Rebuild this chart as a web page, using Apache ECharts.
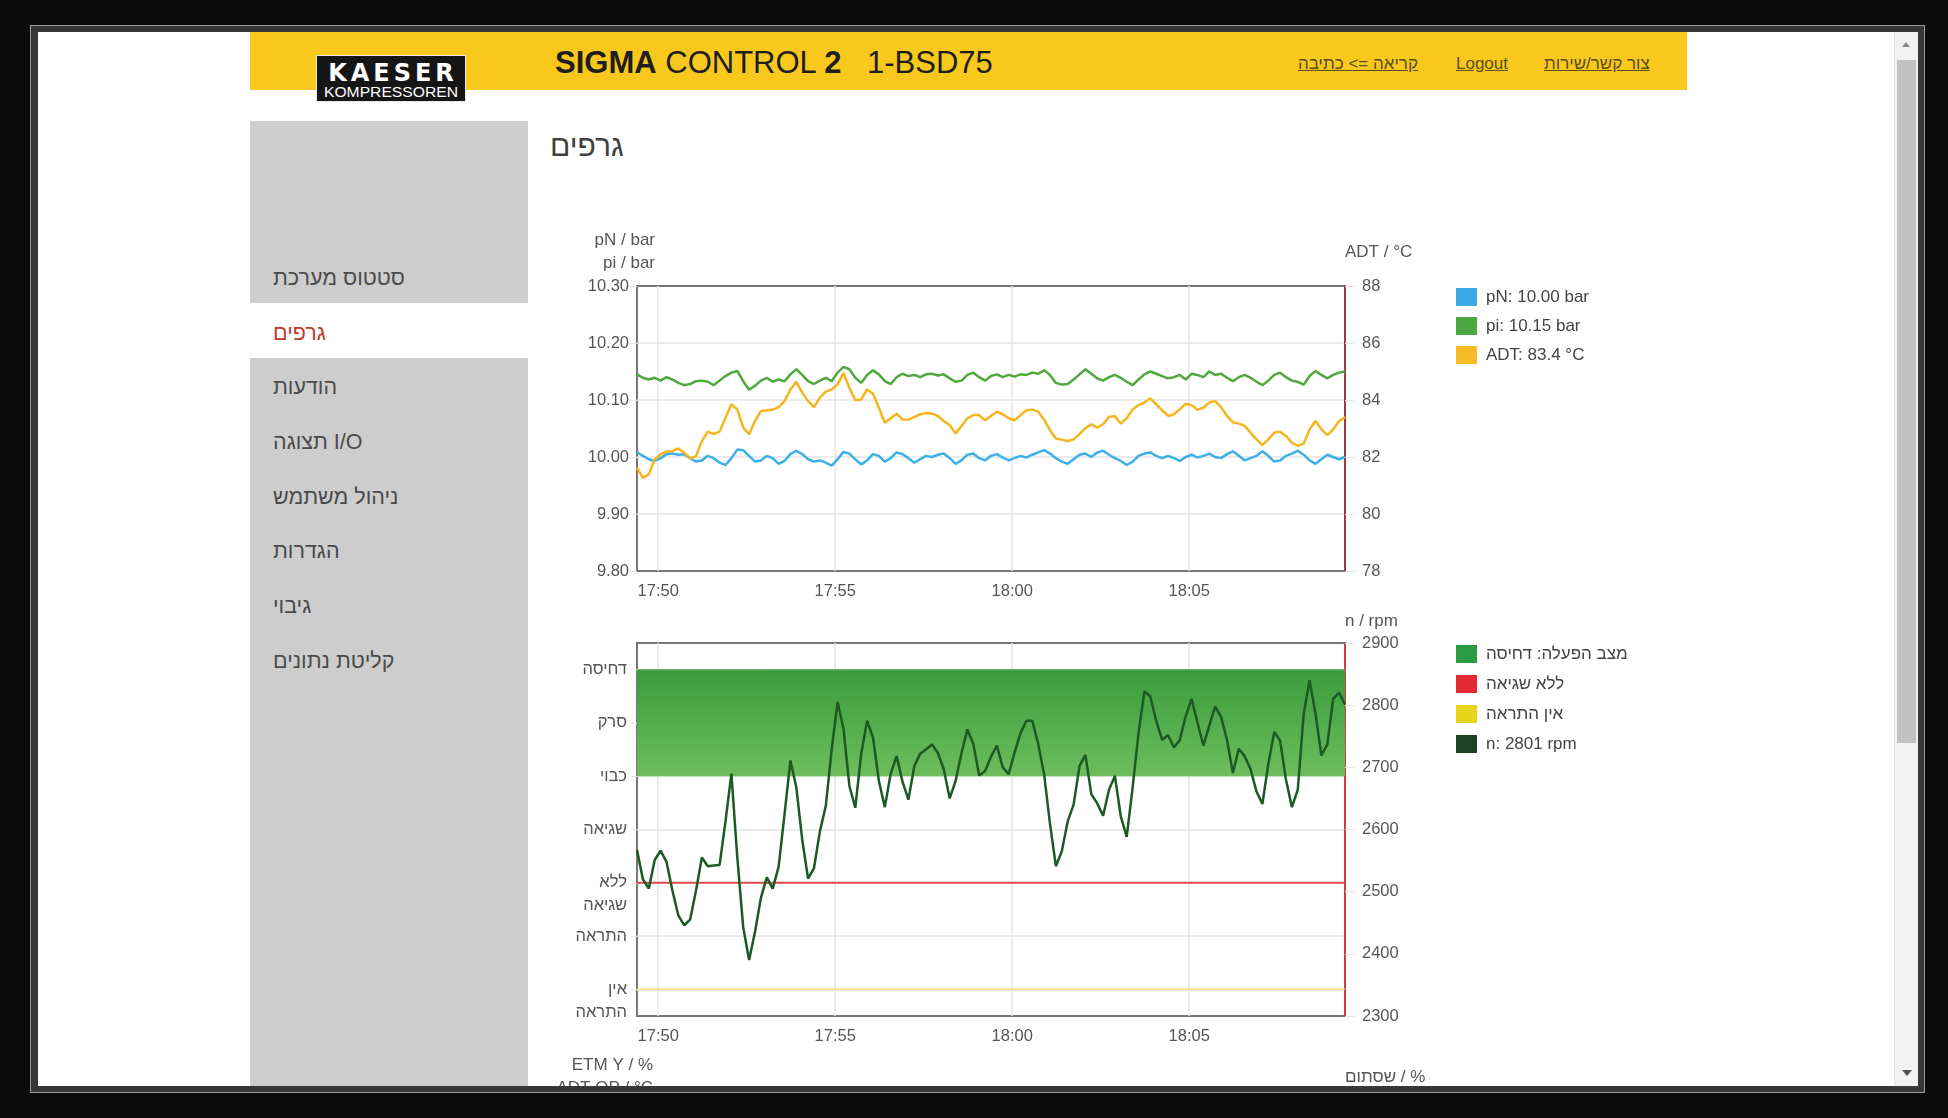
<!DOCTYPE html>
<html>
<head>
<meta charset="utf-8">
<script src="https://cdn.jsdelivr.net/npm/echarts@6/dist/echarts.min.js"></script>
<style>
html,body{margin:0;padding:0;width:1948px;height:1118px;overflow:hidden;background:#0b0b0b;font-family:"Liberation Sans",Arial,"DejaVu Sans",sans-serif;}
div{box-sizing:border-box;}
#frame{position:absolute;left:30px;top:25px;width:1895px;height:1068px;background:#373737;border:1px solid #9a9a9a;}
#page{position:absolute;left:38px;top:32px;width:1880px;height:1054px;background:#ffffff;}
#header{position:absolute;left:250px;top:32px;width:1437px;height:58px;background:#f9c81c;}
#logo{position:absolute;left:316px;top:55px;width:150px;height:47px;background:#161616;border:1px solid #e8e8e8;color:#fff;text-align:center;}
#logo .k1{font-weight:900;font-size:24px;letter-spacing:4px;line-height:24px;margin-top:5px;padding-left:4px;font-family:"DejaVu Sans",Arial,sans-serif;}
#logo .k2{font-size:14.5px;line-height:15px;letter-spacing:0px;font-family:"Liberation Sans Narrow","Liberation Sans",Arial,sans-serif;transform:scaleX(1.08);}
.t{position:absolute;white-space:nowrap;color:#222;}
.title{font-size:31px;line-height:30px;top:48px;color:#1e1e1e;}
.hlink{position:absolute;top:54px;font-size:17px;line-height:20px;color:#5b4e1c;text-decoration:underline;white-space:nowrap;}
.side{position:absolute;left:250px;width:278px;background:#cdcdcd;}
.nav{position:absolute;left:273px;font-size:21.5px;line-height:24px;color:#4a4a4a;white-space:nowrap;}
#heading{position:absolute;left:550px;top:130px;font-size:30px;line-height:32px;color:#3f3f3f;white-space:nowrap;}
#sbTrack{position:absolute;left:1894px;top:32px;width:24px;height:1054px;background:#f1f1f1;border-left:1px solid #e6e6e6;}
#sbThumb{position:absolute;left:1897px;top:60px;width:19px;height:683px;background:#c1c1c1;}
.arrUp{position:absolute;left:1902px;top:42px;width:0;height:0;border-left:4px solid transparent;border-right:4px solid transparent;border-bottom:5px solid #8a8a8a;}
.arrDn{position:absolute;left:1902px;top:1070px;width:0;height:0;border-left:5px solid transparent;border-right:5px solid transparent;border-top:6px solid #505050;}
#chart{position:absolute;left:0;top:0;width:1918px;height:1086px;}
</style>
</head>
<body>
<div id="frame"></div>
<div id="page"></div>
<div id="header"></div>
<div id="logo"><div class="k1">KAESER</div><div class="k2">KOMPRESSOREN</div></div>
<div class="t title" style="left:555px"><b>SIGMA</b> CONTROL <b>2</b></div>
<div class="t title" style="left:867px">1-BSD75</div>
<div class="hlink" style="left:1298px">קריאה =&gt; כתיבה</div>
<div class="hlink" style="left:1456px">Logout</div>
<div class="hlink" style="left:1544px">צור קשר/שירות</div>
<div class="side" style="top:121px;height:182px"></div>
<div class="side" style="top:358px;height:728px"></div>
<div class="nav" style="top:266px">סטטוס מערכת</div>
<div class="nav" style="top:321px;color:#c0392b">גרפים</div>
<div class="nav" style="top:375px">הודעות</div>
<div class="nav" style="top:430px">תצוגה I/O</div>
<div class="nav" style="top:485px">ניהול משתמש</div>
<div class="nav" style="top:539px">הגדרות</div>
<div class="nav" style="top:594px">גיבוי</div>
<div class="nav" style="top:649px">קליטת נתונים</div>
<div id="heading">גרפים</div>
<div id="sbTrack"></div>
<div id="sbThumb"></div>
<div class="arrUp"></div>
<div class="arrDn"></div>
<div id="chart"></div>
<script>
// ---------- DATA ----------
const axisStart = '17:49:24';
const axisEnd = '18:09:24';
const times = [
 '17:49:24','17:49:34','17:49:44','17:49:54',
 '17:50:04','17:50:14','17:50:24','17:50:34','17:50:44','17:50:54',
 '17:51:04','17:51:14','17:51:24','17:51:34','17:51:44','17:51:54',
 '17:52:04','17:52:14','17:52:24','17:52:34','17:52:44','17:52:54',
 '17:53:04','17:53:14','17:53:24','17:53:34','17:53:44','17:53:54',
 '17:54:04','17:54:14','17:54:24','17:54:34','17:54:44','17:54:54',
 '17:55:04','17:55:14','17:55:24','17:55:34','17:55:44','17:55:54',
 '17:56:04','17:56:14','17:56:24','17:56:34','17:56:44','17:56:54',
 '17:57:04','17:57:14','17:57:24','17:57:34','17:57:44','17:57:54',
 '17:58:04','17:58:14','17:58:24','17:58:34','17:58:44','17:58:54',
 '17:59:04','17:59:14','17:59:24','17:59:34','17:59:44','17:59:54',
 '18:00:04','18:00:14','18:00:24','18:00:34','18:00:44','18:00:54',
 '18:01:04','18:01:14','18:01:24','18:01:34','18:01:44','18:01:54',
 '18:02:04','18:02:14','18:02:24','18:02:34','18:02:44','18:02:54',
 '18:03:04','18:03:14','18:03:24','18:03:34','18:03:44','18:03:54',
 '18:04:04','18:04:14','18:04:24','18:04:34','18:04:44','18:04:54',
 '18:05:04','18:05:14','18:05:24','18:05:34','18:05:44','18:05:54',
 '18:06:04','18:06:14','18:06:24','18:06:34','18:06:44','18:06:54',
 '18:07:04','18:07:14','18:07:24','18:07:34','18:07:44','18:07:54',
 '18:08:04','18:08:14','18:08:24','18:08:34','18:08:44','18:08:54',
 '18:09:04','18:09:14','18:09:24'
];
const pN = [
 10.008,10.002,9.996,9.993,9.998,10.005,10.006,10.004,10.005,9.998,
 9.992,9.994,10.002,9.998,9.990,9.986,9.998,10.013,10.012,10.002,
 9.992,9.994,10.002,9.998,9.988,9.993,10.005,10.011,10.005,9.996,
 9.992,9.994,9.990,9.985,9.996,10.009,10.006,9.996,9.987,9.994,
 10.005,10.002,9.992,9.998,10.008,10.005,9.998,9.990,9.996,10.002,
 10.000,10.004,10.006,9.998,9.988,9.994,10.004,10.006,9.998,9.994,
 10.002,10.005,9.999,9.994,9.998,10.002,9.999,10.004,10.008,10.012,
 10.006,9.998,9.992,9.988,9.996,10.004,10.006,10.000,10.008,10.011,
 10.004,9.998,9.993,9.986,9.992,10.002,10.006,10.008,10.002,9.998,
 10.002,9.998,9.993,10.000,10.004,9.999,10.002,10.006,10.000,9.998,
 10.005,10.010,10.002,9.994,9.998,10.002,10.010,10.002,9.992,9.994,
 10.002,10.006,10.011,10.004,9.994,9.988,9.996,10.004,10.000,9.996,
 10.000
];
const pi = [
 10.145,10.139,10.136,10.139,10.134,10.140,10.136,10.130,10.126,10.128,
 10.133,10.134,10.132,10.126,10.134,10.142,10.148,10.151,10.133,10.118,
 10.125,10.134,10.139,10.132,10.136,10.133,10.145,10.154,10.144,10.133,
 10.128,10.134,10.139,10.133,10.148,10.158,10.154,10.139,10.130,10.144,
 10.152,10.145,10.133,10.128,10.140,10.146,10.142,10.144,10.140,10.145,
 10.146,10.143,10.145,10.138,10.132,10.134,10.144,10.148,10.140,10.134,
 10.142,10.145,10.140,10.144,10.141,10.145,10.144,10.148,10.146,10.152,
 10.144,10.130,10.127,10.128,10.136,10.145,10.154,10.146,10.138,10.134,
 10.140,10.144,10.139,10.132,10.126,10.136,10.145,10.150,10.146,10.142,
 10.138,10.140,10.144,10.136,10.146,10.144,10.140,10.150,10.144,10.146,
 10.139,10.133,10.140,10.144,10.139,10.132,10.126,10.134,10.144,10.148,
 10.140,10.134,10.132,10.127,10.142,10.151,10.144,10.138,10.144,10.148,
 10.150
];
const adt = [
 81.63,81.27,81.39,81.92,82.09,82.19,82.21,82.30,82.15,81.95,
 82.03,82.56,82.89,82.80,82.89,83.38,83.85,83.67,83.03,82.80,
 83.26,83.61,83.64,83.66,83.75,83.96,84.37,84.64,84.26,83.96,
 83.75,84.08,84.29,84.37,84.55,84.95,84.43,83.99,84.02,84.37,
 84.22,83.73,83.20,83.36,83.52,83.32,83.31,83.40,83.50,83.54,
 83.52,83.44,83.26,83.12,82.82,83.09,83.36,83.47,83.47,83.29,
 83.44,83.59,83.50,83.36,83.29,83.47,83.64,83.66,83.59,83.31,
 82.94,82.65,82.61,82.56,82.62,82.80,83.01,83.15,83.03,83.15,
 83.40,83.44,83.17,83.36,83.67,83.82,83.91,84.06,83.85,83.64,
 83.44,83.50,83.67,83.87,83.82,83.66,83.73,83.91,83.96,83.75,
 83.44,83.22,83.17,83.09,82.85,82.62,82.42,82.62,82.85,82.89,
 82.74,82.50,82.39,82.47,82.97,83.26,82.97,82.77,82.97,83.26,
 83.40
];
const rpm = [
 2567,2520,2505,2551,2566,2548,2502,2462,2446,2455,
 2502,2555,2541,2542,2543,2613,2690,2555,2443,2390,
 2435,2490,2523,2505,2540,2624,2711,2668,2584,2521,
 2538,2597,2638,2729,2805,2762,2670,2635,2722,2775,
 2748,2678,2636,2690,2718,2677,2648,2702,2722,2729,
 2737,2723,2697,2650,2678,2723,2761,2738,2687,2694,
 2717,2735,2700,2689,2724,2755,2775,2775,2738,2689,
 2609,2541,2565,2613,2640,2702,2720,2657,2642,2622,
 2664,2686,2621,2588,2667,2755,2822,2814,2775,2744,
 2752,2732,2744,2782,2810,2772,2735,2767,2798,2781,
 2744,2691,2730,2718,2697,2661,2641,2705,2757,2743,
 2680,2636,2664,2786,2840,2786,2719,2737,2810,2820,
 2801
];
// state levels, bottom to top (tick labels of the left state axis)
const stateNames = ['אין התראה','התראה','ללא שגיאה','שגיאה','כבוי','סרק','דחיסה'];
const stateTimes = ['17:49:24','18:09:24'];
const opState = ['דחיסה','דחיסה'];
const opStateBase = 'כבוי';
const errState = ['ללא שגיאה','ללא שגיאה'];
const warnState = ['אין התראה','אין התראה'];

// ---------- HELPERS ----------
function toMin(s){const p=s.split(':').map(Number);return (p[0]-17)*60+p[1]+p[2]/60;}
function fmtTime(v){const r=Math.round(v);if(Math.abs(v-r)>1e-6||r%5!==0)return '';const h=17+Math.floor(r/60),m=r%60;return h+':'+String(m).padStart(2,'0');}
function lvl(s){return stateNames.indexOf(s);}
function fmtState(v){const r=Math.round(v);if(Math.abs(v-r)>1e-6||r<0||r>=stateNames.length)return '';const s=stateNames[r];return s.indexOf(' ')>=0?'\n'+s.replace(' ','\n'):s;}
const last=a=>a[a.length-1];

const FONT='"Liberation Sans", Arial, "DejaVu Sans", sans-serif';
const xMin=toMin(axisStart), xMax=toMin(axisEnd);
const pNName='pN: '+last(pN).toFixed(2)+' bar';
const piName='pi: '+last(pi).toFixed(2)+' bar';
const adtName='ADT: '+last(adt).toFixed(1)+' °C';
const opName='מצב הפעלה: '+last(opState);
const errName=last(errState);
const warnName=last(warnState);
const rpmName='n: '+last(rpm)+' rpm';

const grids=[
 {left:637,top:286,width:708,height:285},
 {left:637,top:643,width:708,height:373},
 {left:637,top:1111,width:708,height:285}
].map(g=>Object.assign(g,{show:true,borderColor:'#777',borderWidth:2,backgroundColor:'transparent'}));

const gridColor='#e4e4e4';
const lbl={fontFamily:FONT,fontSize:16.5,color:'#555'};
const nameStyle=(align,pad)=>({fontFamily:FONT,fontSize:17,color:'#555',align:align,verticalAlign:'middle',lineHeight:23,padding:pad||[0,0,0,0]});

const xAxes=[0,1,2].map(i=>({
 type:'value',gridIndex:i,min:xMin,max:xMax,splitNumber:4,
 axisLine:{show:false},axisTick:{show:false},
 axisLabel:Object.assign({formatter:fmtTime,margin:12,showMinLabel:false,showMaxLabel:false},lbl),
 splitLine:{show:true,showMinLine:false,showMaxLine:false,lineStyle:{color:gridColor,width:1.5}}
}));

const yAxes=[
 {type:'value',gridIndex:0,position:'left',min:9.8,max:10.3,interval:0.1,
  name:'pN / bar\npi / bar',nameLocation:'end',nameGap:34,nameTextStyle:nameStyle('right',[0,-18,0,0]),
  axisLine:{show:false},axisTick:{show:true,length:8,lineStyle:{color:gridColor}},
  axisLabel:Object.assign({formatter:v=>v.toFixed(2),margin:8},lbl),
  splitLine:{show:true,showMinLine:false,showMaxLine:false,lineStyle:{color:gridColor,width:1.5}}},
 {type:'value',gridIndex:0,position:'right',min:78,max:88,interval:2,
  name:'ADT / °C',nameLocation:'end',nameGap:34,nameTextStyle:nameStyle('left'),
  axisLine:{show:true,lineStyle:{color:'#9a3c3c',width:2}},axisTick:{show:true,length:10,lineStyle:{color:gridColor}},
  axisLabel:Object.assign({margin:17,formatter:v=>String(v)},lbl),splitLine:{show:false}},
 {type:'value',gridIndex:1,position:'left',min:-0.5,max:stateNames.length-0.5,splitNumber:stateNames.length,
  axisLine:{show:false},axisTick:{show:true,length:6,lineStyle:{color:gridColor}},
  axisLabel:Object.assign({formatter:fmtState,margin:10,lineHeight:23,padding:[8,0,0,0],showMinLabel:false,showMaxLabel:false},lbl),
  splitLine:{show:true,showMinLine:false,showMaxLine:false,lineStyle:{color:gridColor,width:1.5}}},
 {type:'value',gridIndex:1,position:'right',min:2300,max:2900,interval:100,
  name:'n / rpm',nameLocation:'end',nameGap:22,nameTextStyle:nameStyle('left'),
  axisLine:{show:true,lineStyle:{color:'#d43c3c',width:2}},axisTick:{show:true,length:10,lineStyle:{color:gridColor}},
  axisLabel:Object.assign({margin:17,formatter:v=>String(v)},lbl),splitLine:{show:false}},
 {type:'value',gridIndex:2,position:'left',min:0,max:100,interval:20,
  name:'ETM Y / %\nADT OP / °C',nameLocation:'end',nameGap:34,nameTextStyle:nameStyle('right',[0,-16,0,0]),
  axisLine:{show:false},axisTick:{show:false},axisLabel:Object.assign({margin:8},lbl),
  splitLine:{show:true,lineStyle:{color:gridColor}}},
 {type:'value',gridIndex:2,position:'right',min:0,max:100,interval:20,
  name:'שסתום / %',nameLocation:'end',nameGap:34,nameTextStyle:nameStyle('left'),
  axisLine:{show:true,lineStyle:{color:'#9a3c3c',width:2}},axisTick:{show:false},axisLabel:Object.assign({margin:17},lbl),splitLine:{show:false}}
];

const tsData=arr=>times.map((t,i)=>[toMin(t),arr[i]]);
const stData=arr=>stateTimes.map((t,i)=>[toMin(t),lvl(arr[i])]);

const series=[
 {name:pNName,type:'line',xAxisIndex:0,yAxisIndex:0,data:tsData(pN),symbol:'none',lineStyle:{color:'#3db0e8',width:2.5},itemStyle:{color:'#3aa8e2'},z:3},
 {name:piName,type:'line',xAxisIndex:0,yAxisIndex:0,data:tsData(pi),symbol:'none',lineStyle:{color:'#4fa83c',width:2.5},itemStyle:{color:'#4aa840'},z:3},
 {name:adtName,type:'line',xAxisIndex:0,yAxisIndex:1,data:tsData(adt),symbol:'none',lineStyle:{color:'#f5b51c',width:2.5},itemStyle:{color:'#f6bb25'},z:4},
 {name:opName,type:'line',xAxisIndex:1,yAxisIndex:2,data:stData(opState),symbol:'none',
  lineStyle:{color:'#62b562',width:1},itemStyle:{color:'#2b9b45'},
  areaStyle:{origin:lvl(opStateBase),opacity:1,color:new echarts.graphic.LinearGradient(0,0,0,1,[{offset:0,color:'#3b9c3b'},{offset:1,color:'#6dbd5d'}])},z:2},
 {name:errName,type:'line',xAxisIndex:1,yAxisIndex:2,data:stData(errState),symbol:'none',lineStyle:{color:'#e24a4a',width:2},itemStyle:{color:'#e32a30'},z:3},
 {name:warnName,type:'line',xAxisIndex:1,yAxisIndex:2,data:stData(warnState),symbol:'none',lineStyle:{color:'#e9e37a',width:1.5},itemStyle:{color:'#e8d51a'},z:3},
 {name:rpmName,type:'line',xAxisIndex:1,yAxisIndex:3,data:tsData(rpm),symbol:'none',lineStyle:{color:'#1c5a24',width:2.5},itemStyle:{color:'#1d4425'},z:5}
];

const legendText={fontFamily:FONT,fontSize:17,color:'#444',padding:[0,0,0,4]};
const option={
 animation:false,
 backgroundColor:'transparent',
 textStyle:{fontFamily:FONT},
 grid:grids,
 xAxis:xAxes,
 yAxis:yAxes,
 legend:[
  {left:1456,top:288,padding:0,orient:'vertical',icon:'rect',itemWidth:21,itemHeight:18,itemGap:11,selectedMode:false,textStyle:legendText,
   data:[{name:pNName,itemStyle:{color:'#3aa8e2'}},{name:piName,itemStyle:{color:'#4aa840'}},{name:adtName,itemStyle:{color:'#f6bb25'}}]},
  {left:1456,top:645,padding:0,orient:'vertical',icon:'rect',itemWidth:21,itemHeight:18,itemGap:12,selectedMode:false,textStyle:legendText,
   data:[{name:opName,itemStyle:{color:'#2b9b45'}},{name:errName,itemStyle:{color:'#e32a30'}},{name:warnName,itemStyle:{color:'#e8d51a'}},{name:rpmName,itemStyle:{color:'#1d4425'}}]}
 ],
 series:series
};
const chart=echarts.init(document.getElementById('chart'),null,{renderer:'canvas'});
chart.setOption(option);
</script>
</body>
</html>
